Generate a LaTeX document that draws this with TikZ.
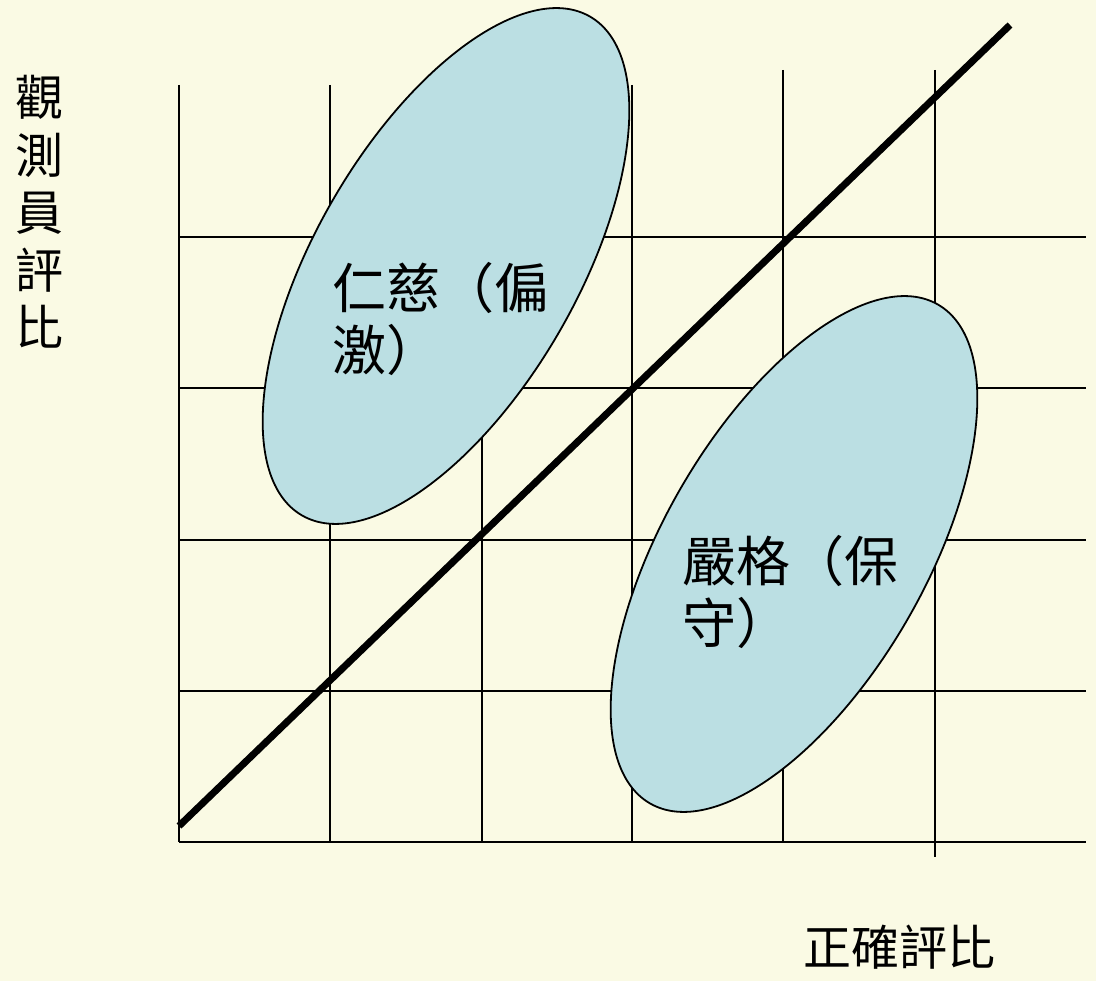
\documentclass[tikz,border=0pt]{standalone}
\usepackage{fontspec}
\newfontfamily\cjk{Noto Sans CJK TC}
\usetikzlibrary{shapes.geometric}
\definecolor{bgcream}{RGB}{250,250,228}
\definecolor{ellblue}{RGB}{187,223,227}
\tikzset{
  gridline/.style={line width=2.6pt, black},
  blob/.style={ellipse, draw=black, line width=1.8pt, fill=ellblue, inner sep=0pt,
     minimum width=576pt, minimum height=262pt, rotate=60},
  bigtext/.style={font=\cjk\fontsize{54}{62}\selectfont, inner sep=0pt, anchor=base west},
  axtext/.style={font=\cjk\fontsize{48}{57.5}\selectfont, inner sep=0pt},
}
\begin{document}
\begin{tikzpicture}[x=1pt,y=-1pt]
\fill[bgcream] (0,0) rectangle (1096,981);
\useasboundingbox (0,0) rectangle (1096,981);
% grid: vertical lines
\coordinate (v1t) at (179,85);  \coordinate (v1b) at (179,842);
\coordinate (v2t) at (330,85);  \coordinate (v2b) at (330,842);
\coordinate (v3t) at (482,85);  \coordinate (v3b) at (482,842);
\coordinate (v4t) at (632,85);  \coordinate (v4b) at (632,842);
\coordinate (v5t) at (783,70);  \coordinate (v5b) at (783,842);
\coordinate (v6t) at (935,70);  \coordinate (v6b) at (935,857);
\foreach \i in {1,...,6} { \draw[gridline] (v\i t) -- (v\i b); }
% grid: horizontal lines
\coordinate (h1l) at (179,237); \coordinate (h1r) at (1086,237);
\coordinate (h2l) at (179,388); \coordinate (h2r) at (1086,388);
\coordinate (h3l) at (179,540); \coordinate (h3r) at (1086,540);
\coordinate (h4l) at (179,691); \coordinate (h4r) at (1086,691);
\coordinate (h5l) at (179,842); \coordinate (h5r) at (1086,842);
\foreach \i in {1,...,5} { \draw[gridline] (h\i l) -- (h\i r); }
% ellipses
\node[blob] (lenient) at (446,266) {};
\node[blob] (strict) at (794,554) {};
% diagonal
\coordinate (dstart) at (179,826);
\coordinate (dend) at (1010,25);
\draw[line width=7pt, black] (dstart) -- (dend);
% texts
\node[bigtext] (t1a) at (332,309) {仁慈（偏};
\node[bigtext] (t1b) at (332,371) {激）};
\node[bigtext] (t2a) at (682,581) {嚴格（保};
\node[bigtext] (t2b) at (682,643) {守）};
\node[axtext, align=center, anchor=north] (ylab) at (40,75) {觀\\測\\員\\評\\比};
\node[axtext, anchor=base west] (xlab) at (803,965) {正確評比};
\end{tikzpicture}
\end{document}
